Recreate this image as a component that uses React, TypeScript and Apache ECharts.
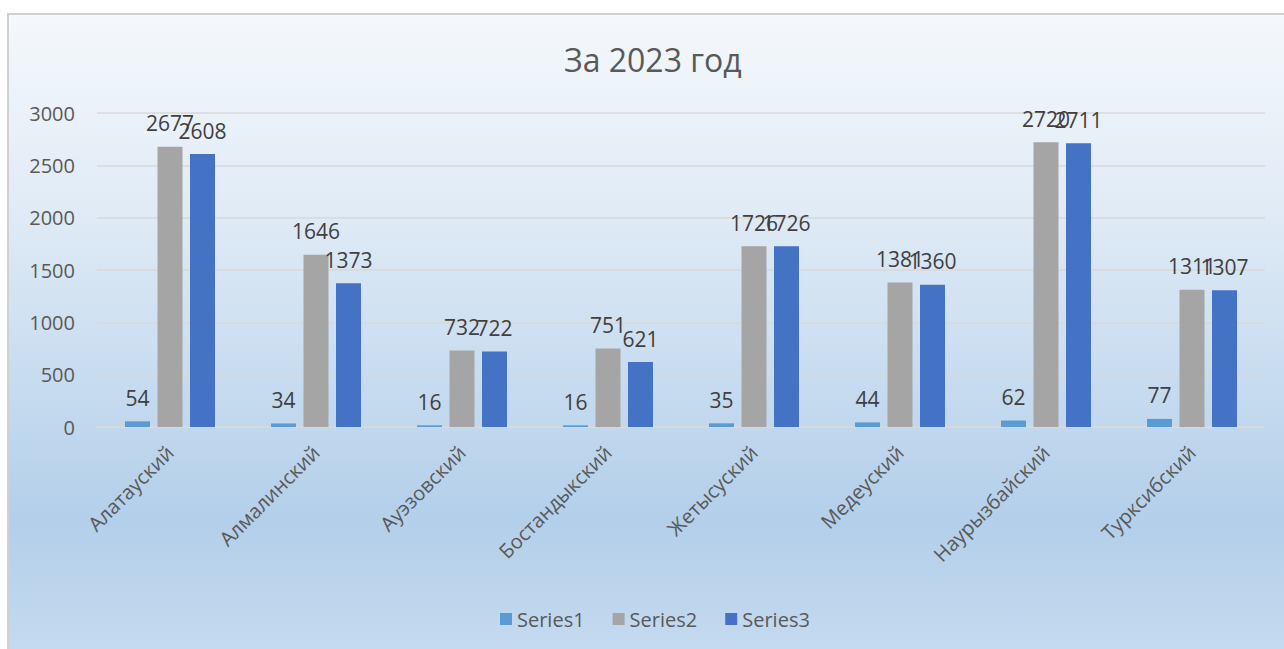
import React, { useEffect, useRef } from "react";
import * as echarts from "echarts";

const categories = ["Алатауский", "Алмалинский", "Ауэзовский", "Бостандыкский", "Жетысуский", "Медеуский", "Наурызбайский", "Турксибский"];
const series1 = [54, 34, 16, 16, 35, 44, 62, 77];
const series2 = [2677, 1646, 732, 751, 1726, 1381, 2720, 1311];
const series3 = [2608, 1373, 722, 621, 1726, 1360, 2711, 1307];
const seriesNames = ["Series1", "Series2", "Series3"];
const colors = ["#5b9bd5", "#a5a5a5", "#4472c4"];

export default function App() {
  const ref = useRef<HTMLDivElement>(null);
  useEffect(() => {
    const chart = echarts.init(ref.current!, null, { renderer: "svg" });
    const font = "'Open Sans', 'Noto Sans', sans-serif";
    const mk = (name: string, data: number[], color: string) => ({
      name,
      type: "bar",
      data,
      barWidth: 25,
      barGap: "30%",
      itemStyle: { color },
      label: { show: true, position: "top", color: "#404040", fontSize: 21, fontFamily: font, distance: 13 },
    });
    chart.setOption({
      animation: false,
      backgroundColor: "#ffffff",
      graphic: [
        {
          type: "rect",
          shape: { x: 8, y: 14, width: 1290, height: 650 },
          style: {
            fill: new echarts.graphic.LinearGradient(0, 0, 0, 1, [
              { offset: 0, color: "#f5f8fc" },
              { offset: 0.3, color: "#e0ebf6" },
              { offset: 0.78, color: "#b3cfea" },
              { offset: 1, color: "#c6dbf0" },
            ]),
            stroke: "#d0d0d0",
            lineWidth: 2,
          },
          z: -10,
          silent: true,
        },
      ],
      title: {
        text: "За 2023 год",
        left: 559,
        top: 38,
        textStyle: { fontSize: 32, fontWeight: "normal", color: "#595959", fontFamily: font },
      },
      legend: {
        bottom: 15,
        left: 495,
        itemWidth: 12,
        itemHeight: 12,
        itemGap: 28,
        icon: "rect",
        textStyle: { fontSize: 20, color: "#595959", fontFamily: font },
        data: seriesNames,
      },
      grid: { left: 97, right: 19, top: 113, bottom: 222 },
      xAxis: {
        type: "category",
        data: categories,
        axisTick: { show: false },
        axisLine: { lineStyle: { color: "#d9d9d9", width: 1.5 } },
        axisLabel: { rotate: 45, fontSize: 20, color: "#595959", fontFamily: font, margin: 22, interval: 0 },
      },
      yAxis: {
        type: "value",
        min: 0,
        max: 3000,
        interval: 500,
        axisLine: { show: false },
        axisTick: { show: false },
        splitLine: { lineStyle: { color: "#d9d9d9", width: 1.5 } },
        axisLabel: { fontSize: 20, color: "#595959", fontFamily: font, margin: 22, formatter: (v: number) => String(v) },
      },
      series: [mk(seriesNames[0], series1, colors[0]), mk(seriesNames[1], series2, colors[1]), mk(seriesNames[2], series3, colors[2])],
    });
    return () => chart.dispose();
  }, []);
  return <div ref={ref} style={{ position: "absolute", left: 0, top: 0, width: 1284, height: 649 }} />;
}
